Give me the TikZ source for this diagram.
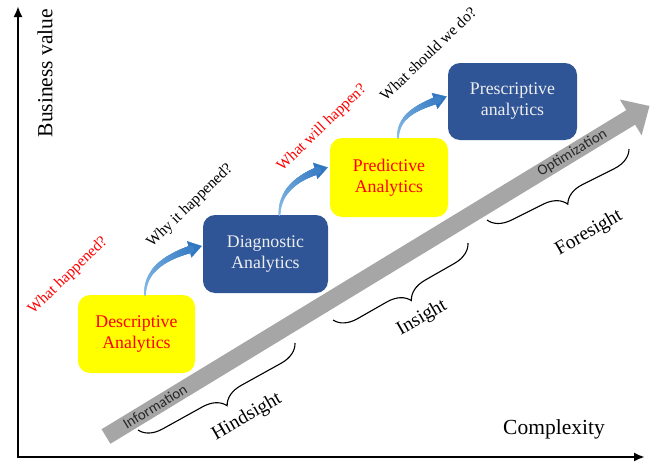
\documentclass[tikz,border=0pt]{standalone}
\usepackage{fontspec}
\setmainfont{Liberation Serif}
\newfontfamily\carl{Carlito}
\usetikzlibrary{arrows.meta,decorations.pathreplacing,decorations.markings,calc}
\definecolor{boxblue}{RGB}{47,85,151}
\definecolor{boxyellow}{RGB}{255,255,0}
\definecolor{bandgray}{RGB}{166,166,166}
\definecolor{arrlight}{RGB}{140,190,232}
\definecolor{arrdark}{RGB}{48,118,192}
\definecolor{qred}{RGB}{255,0,0}
\definecolor{boxtext}{RGB}{238,238,238}
\definecolor{bandtext}{RGB}{40,40,40}
\begin{document}
\begin{tikzpicture}[x=1pt,y=1pt,
  abox/.style={rounded corners=12pt, inner sep=0pt, align=center,
    font=\fontsize{17.8}{21}\selectfont},
  ybox/.style={abox, fill=boxyellow, text=qred},
  bbox/.style={abox, fill=boxblue, text=boxtext},
  axis/.style={line width=2.4pt, black, line join=miter, {Latex[length=11pt,width=9pt]}-{Latex[length=11pt,width=9pt]}},
  axlabel/.style={font=\fontsize{21.5}{24}\selectfont},
  quest/.style={rotate=44, font=\fontsize{15.5}{18}\selectfont, inner sep=0pt},
  brc/.style={decorate, decoration={brace, amplitude=22pt}, line width=1.1pt},
  brlabel/.style={rotate=30, font=\fontsize{19.5}{22}\selectfont, inner sep=0pt},
  bandlabel/.style={sloped, font=\carl\fontsize{15}{18}\selectfont, text=bandtext, inner sep=0pt},
  curv/.style={line width=0.3pt, arrdark, -{Triangle[width=17pt,length=13pt]},
    decoration={markings, mark=between positions 0 and 0.86 step 0.5pt with {%
      \pgfmathsetmacro\mkfr{\pgfkeysvalueof{/pgf/decoration/mark info/distance from start}/\pgfdecoratedpathlength}%
      \pgfmathtruncatemacro\mkpc{100*\mkfr}%
      \pgfmathsetmacro\mkrd{1+3.2*\mkfr}%
      \fill[color=arrdark!\mkpc!arrlight] (0pt,0pt) circle[radius=\mkrd pt];}},
    postaction={decorate}}
]
\useasboundingbox (0,0) rectangle (657,-463);

% axes
\coordinate (ytop) at (18,-6);
\coordinate (origin) at (18,-457);
\coordinate (xend) at (645,-457);
\draw[axis] (ytop) -- (origin) -- (xend);
\node[axlabel, rotate=90] (yl) at (45,-73) {Business value};
\node[axlabel] (xl) at (554,-429) {Complexity};

% gray band arrow
\coordinate (gtail) at (106,-436.5);
\coordinate (gtip) at (649.5,-106);
\coordinate (hb) at ($(gtip)!22pt!(gtail)$);
\fill[bandgray] ($(gtail)!8.5pt!90:(gtip)$) -- ($(hb)!8.5pt!90:(gtip)$)
  -- ($(hb)!21pt!90:(gtip)$) -- (gtip) -- ($(hb)!21pt!-90:(gtip)$)
  -- ($(hb)!8.5pt!-90:(gtip)$) -- ($(gtail)!8.5pt!-90:(gtip)$) -- cycle;
\path (gtail) -- (gtip)
  node[bandlabel, pos=0.09] (info) {Information}
  node[bandlabel, pos=0.858] (optim) {Optimization};

% braces
\coordinate (h1) at (295,-343);
\coordinate (h2) at (138,-430);
\coordinate (i1) at (468,-243);
\coordinate (i2) at (333,-320);
\coordinate (f1) at (629,-149);
\coordinate (f2) at (487,-220);
\draw[brc] (h1) -- (h2);
\draw[brc] (i1) -- (i2);
\draw[brc] (f1) -- (f2);
\node[brlabel] (hind) at (247,-417) {Hindsight};
\node[brlabel] (ins) at (422,-318) {Insight};
\node[brlabel] (fore) at (589,-233) {Foresight};

% boxes
\node[ybox, minimum width=117pt, minimum height=78pt] (desc) at (136.5,-334) {Descriptive\\Analytics};
\node[bbox, minimum width=125pt, minimum height=78pt] (diag) at (265.5,-254) {Diagnostic\\Analytics};
\node[ybox, minimum width=118pt, minimum height=79pt] (pred) at (389,-177.5) {Predictive\\Analytics};
\node[bbox, minimum width=129pt, minimum height=77pt] (presc) at (512.5,-101.5) {Prescriptive\\analytics};

% curved arrows
\draw[curv] ([xshift=8.5pt]desc.north) to[out=90,in=195] ([xshift=-1pt,yshift=8pt]diag.west);
\draw[curv] ([xshift=14pt]diag.north) to[out=90,in=195] ([xshift=-2pt,yshift=10pt]pred.west);
\draw[curv] ([xshift=9pt]pred.north) to[out=90,in=200] ([xshift=-1pt,yshift=5pt]presc.west);

% questions
\node[quest, text=qred] (q1) at (68,-276) {What happened?};
\node[quest] (q2) at (190,-206) {Why it happened?};
\node[quest, text=qred] (q3) at (322,-128) {What will happen?};
\node[quest] (q4) at (428,-54) {What should we do?};
\end{tikzpicture}
\end{document}
